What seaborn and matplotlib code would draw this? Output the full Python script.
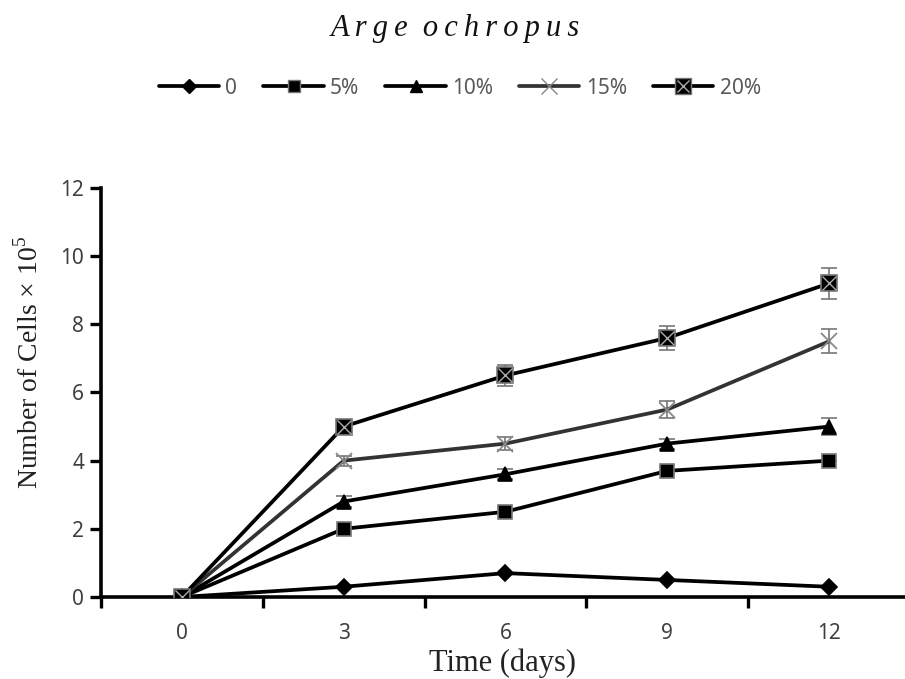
import numpy as np
import pandas as pd
import seaborn as sns
import matplotlib.pyplot as plt
from matplotlib.lines import Line2D

sns.set_theme(style="white")
plt.rcParams['font.family'] = ['Noto Sans', 'DejaVu Sans']
plt.rcParams['mathtext.fontset'] = 'custom'
plt.rcParams['mathtext.rm'] = 'Liberation Serif'

# data
days = ["0", "3", "6", "9", "12"]
series = ["0", "5%", "10%", "15%", "20%"]
cells_0 = [0, 0.3, 0.7, 0.5, 0.3]
cells_5 = [0, 2.0, 2.5, 3.7, 4.0]
cells_10 = [0, 2.8, 3.6, 4.5, 5.0]
cells_15 = [0, 4.0, 4.5, 5.5, 7.5]
cells_20 = [0, 5.0, 6.5, 7.6, 9.2]
err_0 = [0, 0, 0, 0, 0]
err_5 = [0, 0, 0, 0, 0]
err_10 = [0, 0.15, 0.15, 0.15, 0.25]
err_15 = [0, 0.15, 0.2, 0.25, 0.35]
err_20 = [0, 0.1, 0.3, 0.35, 0.45]

values = [cells_0, cells_5, cells_10, cells_15, cells_20]
errors = [err_0, err_5, err_10, err_15, err_20]

df = pd.DataFrame({
    "pos": np.tile(np.arange(len(days)), len(series)),
    "cells": np.concatenate(values),
    "err": np.concatenate(errors),
    "conc": np.repeat(series, len(days)),
})

styles = {
    "0": dict(marker="D", color="black", ms=8, mec="black"),
    "5%": dict(marker="s", color="black", ms=10, mec="#777777"),
    "10%": dict(marker="^", color="black", ms=10, mec="black"),
    "15%": dict(marker="x", color="#333333", ms=12, mec="#888888"),
    "20%": dict(marker="s", color="black", ms=12, mec="#777777"),
}

fig = plt.figure(figsize=(9.05, 6.79), dpi=100)
ax = fig.add_axes([0.1116, 0.1208, 0.8884, 0.6023])

handles = []
for name in series:
    st = styles[name]
    sub = df[df["conc"] == name]
    ax.errorbar(sub["pos"], sub["cells"], yerr=sub["err"], fmt="none",
                ecolor="#777777", elinewidth=1.2, capsize=6, capthick=1.2, zorder=2)
    sns.lineplot(data=sub, x="pos", y="cells", ax=ax, color=st["color"],
                 linewidth=2.7, marker=st["marker"], markersize=st["ms"],
                 markeredgecolor=st["mec"], markeredgewidth=1.2 if st["marker"] != "x" else 1.3,
                 zorder=3, legend=False)
    h = Line2D([], [], color=st["color"], lw=2.7, marker=st["marker"],
               markersize=st["ms"] - 1, markeredgecolor=st["mec"])
    if name == "20%":
        ax.plot(sub["pos"], sub["cells"], ls="none", marker="x", ms=10,
                mec="#aaaaaa", mew=1.0, zorder=4)
        hx = Line2D([], [], ls="none", marker="x", ms=9, mec="#aaaaaa", mew=1.0)
        h = (h, hx)
    handles.append(h)

ax.set_xlim(-0.5, 4.47)
ax.set_ylim(0, 12)
ax.set_xticks(np.arange(-0.5, 4.5, 1.0))
ax.set_xticklabels([])
ax.set_xticks(np.arange(len(days)), minor=True)
ax.set_xticklabels(days, minor=True)
ax.set_yticks(np.arange(0, 13, 2))
ax.tick_params(axis="x", which="major", direction="out", length=8, width=2.4,
               color="black", bottom=True)
ax.tick_params(axis="x", which="minor", length=0, pad=19, labelsize=15,
               labelcolor="#404040")
ax.tick_params(axis="y", direction="out", length=8, width=2.4, color="black",
               left=True, labelsize=15, labelcolor="#404040", pad=4)

sns.despine(ax=ax)
for side in ["left", "bottom"]:
    ax.spines[side].set_linewidth(2.6)
    ax.spines[side].set_color("black")

ax.set_xlabel("Time (days)", fontfamily="Liberation Serif", fontsize=22,
              color="#222222")
ax.xaxis.set_label_coords(0.5, -0.125)
ax.set_ylabel(r"Number of Cells $\times$ 10$^5$", fontfamily="Liberation Serif",
              fontsize=20, color="#222222")
ax.yaxis.set_label_coords(-0.072, 0.575)

title = "\u2009".join("Arge") + "  " + "\u2009".join("ochropus")
fig.text(0.503, 0.958, title, ha="center", va="center",
         fontfamily=["Liberation Serif", "DejaVu Serif"], fontstyle="italic",
         fontsize=22, color="#111111")

fig.legend(handles, series, loc="center", bbox_to_anchor=(0.508, 0.870), ncol=5,
           frameon=False, fontsize=15, labelcolor="#595959", handlelength=2.9,
           handletextpad=0.3, columnspacing=1.25)

fig.savefig("out.png", dpi=100)
